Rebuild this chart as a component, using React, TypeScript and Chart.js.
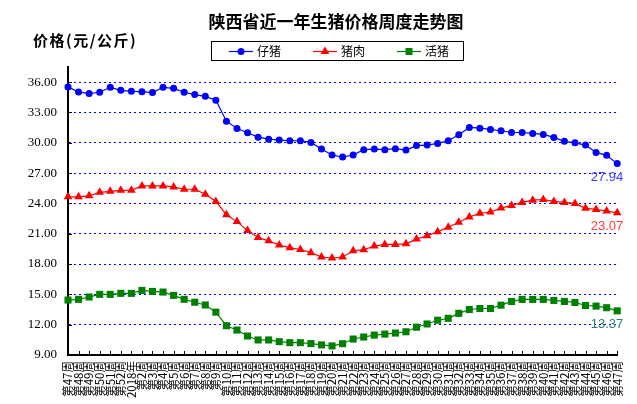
import React, { useEffect, useRef } from 'react';
import { Chart, registerables } from 'chart.js';

Chart.register(...registerables);

const categories: string[] = [
  '第47周', '第48周', '第49周', '第50周', '第51周', '第52周', '2018年',
  '第2周', '第3周', '第4周', '第5周', '第6周', '第7周', '第8周', '第9周', '第10周',
  '第11周', '第12周', '第13周', '第14周', '第15周', '第16周', '第17周', '第18周', '第19周', '第20周',
  '第21周', '第22周', '第23周', '第24周', '第25周', '第26周', '第27周', '第28周', '第29周', '第30周',
  '第31周', '第32周', '第33周', '第34周', '第35周', '第36周', '第37周', '第38周', '第39周', '第40周',
  '第41周', '第42周', '第43周', '第44周', '第45周', '第46周', '第47周',
];

const pigletPrice: number[] = [
  35.53, 35.03, 34.87, 35.0, 35.49, 35.19, 35.09, 35.06, 34.97, 35.49,
  35.39, 35.0, 34.77, 34.6, 34.2, 32.14, 31.42, 31.0, 30.56, 30.36,
  30.27, 30.2, 30.2, 30.04, 29.38, 28.79, 28.59, 28.79, 29.32, 29.38,
  29.32, 29.42, 29.28, 29.72, 29.77, 29.94, 30.2, 30.8, 31.52, 31.45,
  31.32, 31.19, 31.02, 31.02, 30.93, 30.83, 30.53, 30.14, 30.0, 29.77,
  29.05, 28.76, 27.94,
];

const porkPrice: number[] = [
  24.65, 24.65, 24.75, 25.1, 25.2, 25.3, 25.3, 25.73, 25.73, 25.73,
  25.63, 25.4, 25.4, 24.9, 24.2, 22.88, 22.2, 21.31, 20.63, 20.3,
  19.88, 19.62, 19.44, 19.13, 18.7, 18.6, 18.7, 19.32, 19.42, 19.78,
  19.94, 19.94, 20.0, 20.47, 20.8, 21.19, 21.65, 22.14, 22.66, 23.02,
  23.15, 23.54, 23.8, 24.1, 24.32, 24.39, 24.2, 24.1, 24.0, 23.51,
  23.41, 23.25, 23.07,
];

const hogPrice: number[] = [
  14.44, 14.51, 14.74, 15.0, 15.0, 15.1, 15.1, 15.39, 15.29, 15.23,
  14.9, 14.51, 14.22, 13.95, 13.24, 11.9, 11.47, 10.88, 10.49, 10.49,
  10.32, 10.22, 10.22, 10.13, 10.0, 9.9, 10.12, 10.58, 10.78, 10.97,
  11.07, 11.17, 11.3, 11.75, 12.07, 12.44, 12.63, 13.12, 13.5, 13.6,
  13.6, 13.93, 14.3, 14.5, 14.5, 14.5, 14.4, 14.3, 14.2, 13.9,
  13.84, 13.68, 13.37,
];

const yTickValues: number[] = [9, 12, 15, 18, 21, 24, 27, 30, 33, 36];
const yMin = 9;
const yMax = 37.5;

const seriesNames: string[] = ['仔猪', '猪肉', '活猪'];
const seriesColors: string[] = ['#0000ff', '#ff0000', '#008000'];
const endLabelColors: string[] = ['#3a3aff', '#ff3a3a', '#2a8070'];
const chartTitle = '陕西省近一年生猪价格周度走势图';
const yAxisTitle = '价格(元/公斤)';

const CJK = '"Noto Sans CJK SC", "Noto Sans", sans-serif';

function drawMarker(ctx: CanvasRenderingContext2D, kind: string, x: number, y: number, color: string) {
  ctx.fillStyle = color;
  ctx.beginPath();
  if (kind === 'circle') {
    ctx.arc(x, y, 3.5, 0, Math.PI * 2);
  } else if (kind === 'triangle') {
    const r = 5;
    ctx.moveTo(x, y - r);
    ctx.lineTo(x + r * 0.866, y + r * 0.5);
    ctx.lineTo(x - r * 0.866, y + r * 0.5);
    ctx.closePath();
  } else {
    ctx.rect(x - 3.5, y - 3.5, 7, 7);
  }
  ctx.fill();
}

const legendItems = [
  { line: [229, 253], marker: 241, text: 257, kind: 'circle' },
  { line: [313, 337], marker: 325, text: 341, kind: 'triangle' },
  { line: [397, 421], marker: 409, text: 425, kind: 'rect' },
];

const decorPlugin = {
  id: 'decor',
  afterDraw(chart: any) {
    const ctx: CanvasRenderingContext2D = chart.ctx;
    const { left, bottom } = chart.chartArea;
    const xs = chart.scales.x;
    const ys = chart.scales.y;
    ctx.save();

    // inside tick marks
    ctx.strokeStyle = '#000';
    ctx.lineWidth = 1;
    ctx.beginPath();
    for (let i = 0; i < categories.length; i++) {
      const x = Math.round(xs.getPixelForValue(i)) + 0.5;
      ctx.moveTo(x, bottom);
      ctx.lineTo(x, bottom - 4);
    }
    for (const v of yTickValues) {
      const y = Math.round(ys.getPixelForValue(v)) + 0.5;
      ctx.moveTo(left, y);
      ctx.lineTo(left + 4, y);
    }
    ctx.stroke();

    // title
    ctx.fillStyle = '#000';
    ctx.textBaseline = 'middle';
    ctx.textAlign = 'center';
    ctx.font = `bold 17px ${CJK}`;
    ctx.fillText(chartTitle, 336, 22);

    // y axis title
    ctx.textAlign = 'left';
    ctx.font = `bold 15px ${CJK}`;
    (ctx as any).letterSpacing = '1.5px';
    ctx.fillText(yAxisTitle, 33, 40);
    (ctx as any).letterSpacing = '0px';

    // legend
    ctx.strokeStyle = '#000';
    ctx.lineWidth = 1;
    ctx.strokeRect(211.5, 41.5, 252, 19);
    const ly = 51;
    legendItems.forEach((it, i) => {
      ctx.strokeStyle = seriesColors[i];
      ctx.lineWidth = 1.2;
      ctx.beginPath();
      ctx.moveTo(it.line[0], ly + 0.5);
      ctx.lineTo(it.line[1], ly + 0.5);
      ctx.stroke();
      drawMarker(ctx, it.kind, it.marker, ly + 0.5, seriesColors[i]);
      ctx.fillStyle = '#000';
      ctx.font = `12px ${CJK}`;
      ctx.textAlign = 'left';
      ctx.fillText(seriesNames[i], it.text, ly + 0.5);
    });

    // end value labels
    chart.data.datasets.forEach((ds: any, di: number) => {
      const meta = chart.getDatasetMeta(di);
      const last = meta.data.length - 1;
      const pt = meta.data[last];
      ctx.font = '13px "Liberation Sans", Arial, sans-serif';
      ctx.fillStyle = endLabelColors[di];
      ctx.textAlign = 'right';
      ctx.textBaseline = 'middle';
      ctx.fillText(Number(ds.data[last]).toFixed(2), pt.x + 6, pt.y + 14);
    });

    ctx.restore();
  },
};

export default function App() {
  const ref = useRef<HTMLCanvasElement>(null);

  useEffect(() => {
    document.body.style.margin = '0';
    const canvas = ref.current;
    if (!canvas) return;
    const mk = (i: number, data: number[], pointStyle: string, radius: number) => ({
      label: seriesNames[i],
      data,
      borderColor: seriesColors[i],
      backgroundColor: seriesColors[i],
      borderWidth: 1.2,
      pointStyle,
      pointRadius: radius,
      pointBorderWidth: 0,
      pointBackgroundColor: seriesColors[i],
      pointBorderColor: seriesColors[i],
      tension: 0,
      clip: false as any,
    });
    const chart = new Chart(canvas, {
      type: 'line',
      data: {
        labels: categories,
        datasets: [
          mk(0, pigletPrice, 'circle', 3.5),
          mk(1, porkPrice, 'triangle', 5),
          mk(2, hogPrice, 'rect', 5),
        ],
      },
      options: {
        responsive: false,
        animation: false,
        events: [],
        layout: { padding: { top: 67, right: 15, bottom: 0, left: 0 } },
        plugins: {
          legend: { display: false },
          title: { display: false },
          tooltip: { enabled: false },
        },
        scales: {
          x: {
            type: 'category',
            offset: false,
            grid: { display: false, drawTicks: false },
            border: { display: true, color: '#000', width: 2 },
            afterFit: (s: any) => { s.height = 49; },
            ticks: {
              autoSkip: false,
              maxRotation: 90,
              minRotation: 90,
              padding: 6,
              color: '#000',
              font: { size: 11.5, family: CJK },
            },
          },
          y: {
            type: 'linear',
            min: yMin,
            max: yMax,
            afterFit: (s: any) => { s.width = 68; },
            afterBuildTicks: (s: any) => { s.ticks = yTickValues.map((v) => ({ value: v })); },
            grid: {
              drawTicks: false,
              lineWidth: 1,
              color: (c: any) => (c.tick && c.tick.value === yMin ? 'rgba(0,0,0,0)' : '#0000ff'),
            },
            border: { display: true, color: '#000', width: 2, dash: [2, 3] },
            ticks: {
              padding: 11,
              color: '#000',
              font: { size: 13, family: '"Liberation Serif", serif' },
              callback: (v: any) => Number(v).toFixed(2),
            },
          },
        },
      },
      plugins: [decorPlugin],
    });
    return () => chart.destroy();
  }, []);

  return (
    <div style={{ width: 637, height: 404 }}>
      <canvas ref={ref} width={637} height={404} style={{ display: 'block', width: 637, height: 404 }} />
    </div>
  );
}
